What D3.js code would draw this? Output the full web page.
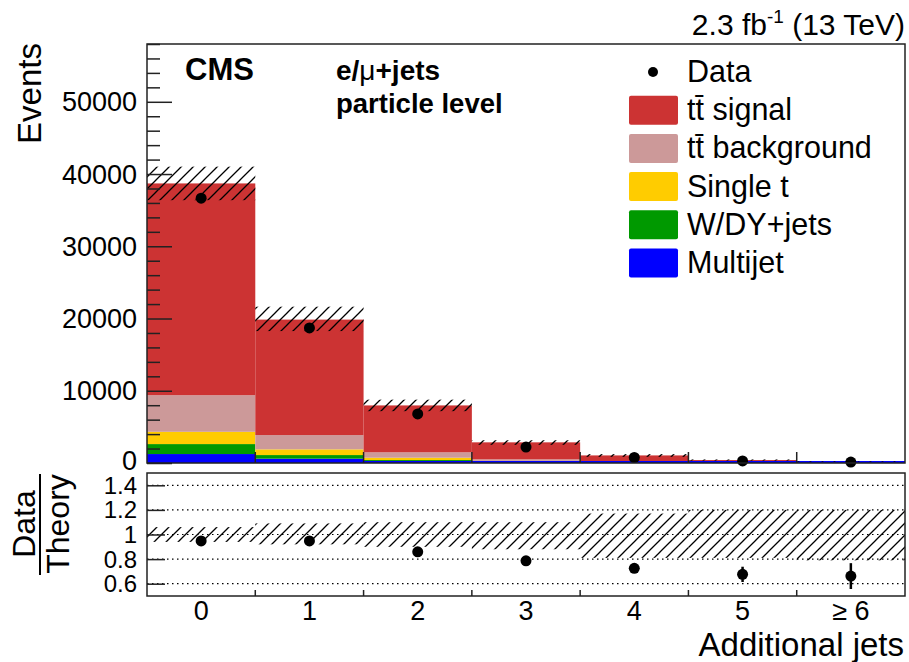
<!DOCTYPE html>
<html><head><meta charset="utf-8">
<script src="https://cdn.jsdelivr.net/npm/d3@7"></script>
<style>
html,body{margin:0;padding:0;background:#fff;}
text{font-family:"Liberation Sans",Arial,Helvetica,sans-serif;fill:#000;}
</style></head>
<body>
<script>
// ---- data ----
const bins = ["0","1","2","3","4","5","≥ 6"];
const multijet = [1240, 600, 200, 80, 30, 10, 5];
const wdyjets  = [1380, 500, 210, 80, 30, 10, 5];
const singleT  = [1700, 790, 320, 130, 50, 20, 10];
const ttBkg    = [5070, 1980, 750, 220, 80, 30, 15];
const ttSignal = [29310, 15980, 6490, 2350, 860, 340, 165];
const dataEv   = [36650, 18700, 6800, 2200, 760, 280, 135];
const ratio    = [0.948, 0.948, 0.859, 0.786, 0.725, 0.676, 0.662];
const ratioErr = [0.006, 0.008, 0.012, 0.02, 0.03, 0.062, 0.105];
const uncUp    = [1.06, 1.09, 1.10, 1.10, 1.17, 1.20, 1.20];
const uncDn    = [0.94, 0.92, 0.90, 0.88, 0.81, 0.81, 0.79];
const yTicks   = [0, 10000, 20000, 30000, 40000, 50000];
const rTicks   = [0.6, 0.8, 1, 1.2, 1.4];
const seriesNames = ["Multijet","W/DY+jets","Single t","tt̄ background","tt̄ signal"];
const seriesColors = ["#0000ff","#009900","#ffcc00","#cc9999","#cc3333"];

const W = 909, H = 662;
const L = 147, R = 905, mT = 44, mB = 463, rT = 473, rB = 596;
const svg = d3.select("body").append("svg").attr("width", W).attr("height", H);

const defs = svg.append("defs");
const pat = defs.append("pattern").attr("id","hatch").attr("patternUnits","userSpaceOnUse")
  .attr("width",12).attr("height",12);
pat.append("path").attr("d","M0,12 L12,0 M-3,3 L3,-3 M9,15 L15,9")
  .attr("stroke","#000").attr("stroke-width",1.3).attr("fill","none");

const x = d3.scaleBand().domain(bins).range([L, R]).paddingInner(0).paddingOuter(0);
const y = d3.scaleLinear().domain([0, 58000]).range([mB, mT]);
const yr = d3.scaleLinear().domain([0.5, 1.5]).range([rB, rT]);

// stacked bars
const rows = bins.map((b,i)=>({bin:b, s0:multijet[i], s1:wdyjets[i], s2:singleT[i], s3:ttBkg[i], s4:ttSignal[i]}));
const stack = d3.stack().keys(["s0","s1","s2","s3","s4"])(rows);
const gMain = svg.append("g");
stack.forEach((layer, li) => {
  gMain.append("g").attr("fill", seriesColors[li]).selectAll("rect").data(layer).join("rect")
    .attr("x", d=>x(d.data.bin)).attr("width", x.bandwidth())
    .attr("y", d=>y(d[1])).attr("height", d=>Math.max(0, y(d[0]) - y(d[1])));
});
const totals = rows.map(r=>r.s0+r.s1+r.s2+r.s3+r.s4);

// bottom blue baseline
gMain.append("line").attr("x1",L).attr("x2",R).attr("y1",mB-1).attr("y2",mB-1)
  .attr("stroke","#0000ff").attr("stroke-width",2);

// uncertainty hatch band main
gMain.append("g").selectAll("rect").data(bins).join("rect")
  .attr("x", b=>x(b)).attr("width", x.bandwidth())
  .attr("y", (b,i)=>y(totals[i]*uncUp[i]))
  .attr("height", (b,i)=>y(totals[i]*uncDn[i]) - y(totals[i]*uncUp[i]))
  .attr("fill","url(#hatch)");

// data points main
gMain.append("g").selectAll("circle").data(bins).join("circle")
  .attr("cx", b=>x(b)+x.bandwidth()/2).attr("cy",(b,i)=>y(dataEv[i])).attr("r",5.5).attr("fill","#000");

// main frame
svg.append("rect").attr("x",L).attr("y",mT).attr("width",R-L).attr("height",mB-mT)
  .attr("fill","none").attr("stroke","#222").attr("stroke-width",1.5);

// main y axis
const yAx = d3.axisRight(y).tickValues(yTicks).tickSize(25).tickFormat("");
svg.append("g").attr("transform",`translate(${L},0)`).call(yAx)
  .call(g=>g.select(".domain").remove()).selectAll("line").attr("stroke","#222").attr("stroke-width",1.5);
const minorTicks = d3.range(0, 58001, 2000).filter(v=>v%10000!==0);
svg.append("g").attr("transform",`translate(${L},0)`)
  .call(d3.axisRight(y).tickValues(minorTicks).tickSize(13).tickFormat(""))
  .call(g=>g.select(".domain").remove()).selectAll("line").attr("stroke","#222").attr("stroke-width",1.5);
svg.append("g").selectAll("text").data(yTicks).join("text")
  .attr("x",137).attr("y",d=>y(d)+(d===0?7:9.5)).attr("text-anchor","end").attr("font-size",27).text(d=>d);

// x bin edge ticks
const edges = bins.slice(1).map(b=>x(b));
svg.append("g").selectAll("line").data(edges).join("line")
  .attr("x1",d=>d).attr("x2",d=>d).attr("y1",mB).attr("y2",mB-11).attr("stroke","#222").attr("stroke-width",1.5);

// ---- ratio panel ----
const gR = svg.append("g");
gR.append("g").selectAll("line").data(rTicks).join("line")
  .attr("x1",L).attr("x2",R).attr("y1",d=>yr(d)).attr("y2",d=>yr(d))
  .attr("stroke","#000").attr("stroke-width",1.2).attr("stroke-dasharray","1.5,3.5");
gR.append("g").selectAll("rect").data(bins).join("rect")
  .attr("x", b=>x(b)).attr("width", x.bandwidth())
  .attr("y",(b,i)=>yr(uncUp[i])).attr("height",(b,i)=>yr(uncDn[i])-yr(uncUp[i]))
  .attr("fill","url(#hatch)");
gR.append("g").selectAll("line").data(bins).join("line")
  .attr("x1",b=>x(b)+x.bandwidth()/2).attr("x2",b=>x(b)+x.bandwidth()/2)
  .attr("y1",(b,i)=>yr(ratio[i]-ratioErr[i])).attr("y2",(b,i)=>yr(ratio[i]+ratioErr[i]))
  .attr("stroke","#000").attr("stroke-width",2.5);
gR.append("g").selectAll("circle").data(bins).join("circle")
  .attr("cx", b=>x(b)+x.bandwidth()/2).attr("cy",(b,i)=>yr(ratio[i])).attr("r",5.5).attr("fill","#000");
svg.append("rect").attr("x",L).attr("y",rT).attr("width",R-L).attr("height",rB-rT)
  .attr("fill","none").attr("stroke","#222").attr("stroke-width",1.5);
svg.append("g").attr("transform",`translate(${L},0)`)
  .call(d3.axisRight(yr).tickValues(rTicks).tickSize(18).tickFormat(""))
  .call(g=>g.select(".domain").remove()).selectAll("line").attr("stroke","#222").attr("stroke-width",1.5);
svg.append("g").selectAll("text").data(rTicks).join("text")
  .attr("x",137).attr("y",d=>yr(d)+8.5).attr("text-anchor","end").attr("font-size",24).text(d=>d);
svg.append("g").selectAll("line").data(edges).join("line")
  .attr("x1",d=>d).attr("x2",d=>d).attr("y1",rB).attr("y2",rB-6).attr("stroke","#222").attr("stroke-width",1.5);
svg.append("g").selectAll("text").data(bins).join("text")
  .attr("x",b=>x(b)+x.bandwidth()/2).attr("y",620).attr("text-anchor","middle").attr("font-size",27).text(b=>b);

// ---- titles ----
svg.append("text").attr("transform","translate(41,43) rotate(-90)").attr("text-anchor","end")
  .attr("font-size",33).text("Events");
svg.append("text").attr("transform","translate(35,524) rotate(-90)").attr("text-anchor","middle")
  .attr("font-size",32).text("Data");
svg.append("line").attr("x1",40).attr("x2",40).attr("y1",474).attr("y2",575).attr("stroke","#000").attr("stroke-width",2);
svg.append("text").attr("transform","translate(69,524) rotate(-90)").attr("text-anchor","middle")
  .attr("font-size",32).text("Theory");
svg.append("text").attr("x",904).attr("y",656).attr("text-anchor","end").attr("font-size",33).text("Additional jets");

const lumi = svg.append("text").attr("x",905).attr("y",35).attr("text-anchor","end").attr("font-size",30);
lumi.append("tspan").text("2.3 fb");
lumi.append("tspan").attr("font-size",19).attr("dy",-12).text("-1");
lumi.append("tspan").attr("dy",12).text(" (13 TeV)");

svg.append("text").attr("x",185).attr("y",80).attr("font-size",31).attr("font-weight","bold").text("CMS");
const ch = svg.append("text").attr("x",336).attr("y",80).attr("font-size",28).attr("font-weight","bold");
ch.append("tspan").text("e/");
ch.append("tspan").attr("font-weight","normal").text("μ");
ch.append("tspan").text("+jets");
svg.append("text").attr("x",336).attr("y",113).attr("font-size",27.5).attr("font-weight","bold").text("particle level");

// ---- legend ----
const leg = svg.append("g");
const legItems = [
  {name:"Data", type:"pt"},
  {name:seriesNames[4], color:seriesColors[4]},
  {name:seriesNames[3], color:seriesColors[3]},
  {name:seriesNames[2], color:seriesColors[2]},
  {name:seriesNames[1], color:seriesColors[1]},
  {name:seriesNames[0], color:seriesColors[0]}
];
legItems.forEach((it,i)=>{
  const cy = 72 + i*38.2;
  if (it.type==="pt") leg.append("circle").attr("cx",653).attr("cy",cy).attr("r",5).attr("fill","#000");
  else leg.append("rect").attr("x",629).attr("y",cy-14.5).attr("width",49).attr("height",29).attr("rx",2).attr("fill",it.color);
  leg.append("text").attr("x",687).attr("y",cy+10).attr("font-size",30.5).text(it.name);
});
</script>
</body></html>
